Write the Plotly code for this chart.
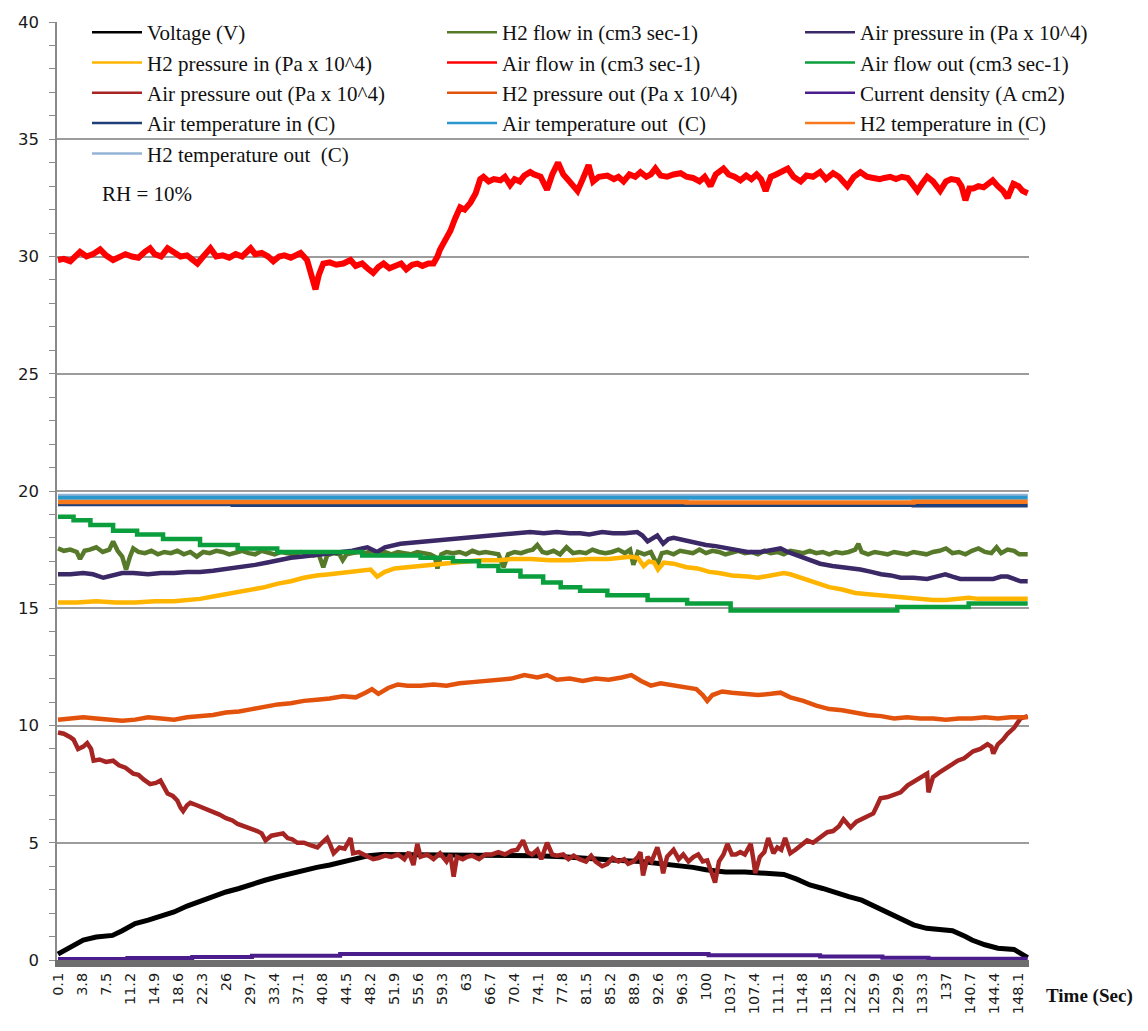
import plotly.graph_objects as go

# ---- time axis labels (seconds) ----
TIME_TICKS = ["0.1", "3.8", "7.5", "11.2", "14.9", "18.6", "22.3", "26", "29.7", "33.4",
              "37.1", "40.8", "44.5", "48.2", "51.9", "55.6", "59.3", "63", "66.7", "70.4",
              "74.1", "77.8", "81.5", "85.2", "88.9", "92.6", "96.3", "100", "103.7", "107.4",
              "111.1", "114.8", "118.5", "122.2", "125.9", "129.6", "133.3", "137", "140.7",
              "144.4", "148.1"]

# ---- Voltage (V) ----
VOLT_T = [0.1, 2, 4, 6, 7.5, 8.5, 10, 12, 14, 16, 18, 20, 22, 24, 26, 28, 30, 32, 34, 36,
          38, 40, 42, 44, 46, 48, 50, 55, 60, 65, 70, 74, 78, 82, 86, 90, 94, 98, 100, 103,
          106, 110, 112, 114, 116, 118, 120, 122, 124, 126, 128, 130, 132, 134, 136, 138,
          140, 141, 143, 145, 147.5, 148.5, 149.6]
VOLT = [0.25, 0.55, 0.85, 0.98, 1.0, 1.05, 1.25, 1.55, 1.7, 1.85, 2.05, 2.3, 2.5, 2.75, 2.9,
        3.05, 3.25, 3.4, 3.55, 3.7, 3.8, 3.95, 4.05, 4.2, 4.35, 4.45, 4.5, 4.5, 4.5, 4.5,
        4.45, 4.45, 4.4, 4.3, 4.25, 4.2, 4.1, 3.95, 3.85, 3.75, 3.75, 3.7, 3.65, 3.45, 3.2,
        3.05, 2.85, 2.7, 2.55, 2.3, 2.05, 1.75, 1.5, 1.35, 1.3, 1.25, 1.0, 0.85, 0.65, 0.5,
        0.45, 0.3, 0.1]

# ---- H2 flow in (cm3 sec-1) ----
H2_FLOW_T = [0.1, 1, 2, 3, 3.5, 4.2, 5, 6, 7, 8, 8.6, 9.3, 10, 10.6, 11.2, 11.7, 12.5, 13.5,
             14.5, 15.5, 16.5, 17.5, 18.5, 19.5, 20.5, 21.5, 22.5, 23.5, 24.5, 25.5, 26.5,
             27.5, 28.5, 29.5, 30.5, 31.5, 32.5, 33.5, 34.5, 35.5, 36.5, 37.5, 38.5, 39.5,
             40.3, 41, 41.6, 42.5, 43.5, 44, 44.6, 45.5, 46.5, 47.5, 48.5, 49.5, 50.5, 51.5,
             52.5, 53.5, 54.5, 55.5, 56.5, 57.5, 58.2, 58.6, 59.2, 60, 61, 62, 63, 64, 65, 66,
             67, 68, 68.8, 69.5, 70.5, 71.5, 72.5, 73.3, 74, 74.8, 75.5, 76.5, 77.5, 78.5,
             79.5, 80.5, 81.5, 82.5, 83.5, 84.5, 85.5, 86.5, 87.5, 88.3, 88.8, 89.5, 90.5,
             91.5, 92.5, 93.2, 94, 95, 96, 97, 98, 99, 100, 101, 102, 103, 104, 105, 106,
             107, 108, 109, 110, 111, 112, 113, 114, 115, 116, 117, 118, 119, 120, 121, 122,
             123, 123.5, 124, 125, 126, 127, 128, 129, 130, 131, 132, 133, 134, 135, 136,
             137, 138, 139, 140, 141, 142, 143, 144, 144.8, 145.5, 146.5, 147.5, 148.3, 149.6]
H2_FLOW = [17.55, 17.45, 17.5, 17.4, 17.1, 17.45, 17.5, 17.6, 17.4, 17.5, 17.85, 17.45, 17.2,
           16.65, 17.2, 17.55, 17.4, 17.35, 17.45, 17.3, 17.4, 17.35, 17.45, 17.3, 17.4,
           17.2, 17.4, 17.35, 17.45, 17.4, 17.3, 17.4, 17.45, 17.35, 17.3, 17.45, 17.35,
           17.3, 17.4, 17.35, 17.3, 17.4, 17.35, 17.25, 17.3, 16.75, 17.25, 17.35, 17.3,
           17.05, 17.3, 17.35, 17.4, 17.35, 17.45, 17.35, 17.4, 17.3, 17.4, 17.35, 17.3,
           17.4, 17.35, 17.3, 17.2, 16.7, 17.3, 17.4, 17.35, 17.4, 17.3, 17.45, 17.35, 17.4,
           17.35, 17.3, 16.75, 17.3, 17.4, 17.35, 17.45, 17.5, 17.7, 17.4, 17.35, 17.45,
           17.3, 17.6, 17.35, 17.4, 17.35, 17.5, 17.4, 17.35, 17.4, 17.5, 17.35, 17.5,
           16.85, 17.4, 17.3, 17.4, 16.85, 17.35, 17.4, 17.3, 17.45, 17.4, 17.35, 17.5,
           17.35, 17.45, 17.4, 17.3, 17.4, 17.45, 17.35, 17.4, 17.3, 17.45, 17.35, 17.4,
           17.3, 17.45, 17.4, 17.35, 17.45, 17.35, 17.4, 17.3, 17.4, 17.35, 17.4, 17.5,
           17.75, 17.4, 17.3, 17.4, 17.35, 17.3, 17.4, 17.35, 17.3, 17.4, 17.35, 17.3, 17.4,
           17.45, 17.55, 17.35, 17.4, 17.3, 17.45, 17.55, 17.4, 17.35, 17.6, 17.35, 17.5,
           17.45, 17.3, 17.3]

# ---- Air pressure in (Pa x 10^4) ----
AIR_P_IN_T = [0.1, 2, 4, 5.5, 7.1, 8.5, 10, 11.7, 14, 16, 18, 20, 22, 24, 25.5, 27.1, 29,
              30.5, 32.4, 34, 36, 37.5, 39, 41, 42.6, 44, 45.5, 47, 47.8, 49.3, 50.5, 52.9,
              55, 57.5, 60, 62.5, 65.2, 67, 69, 71, 72.9, 75, 77, 79, 80.6, 82, 84, 85.7,
              87.5, 89.4, 90.2, 91, 91.8, 92.5, 93.4, 94.2, 95, 96.5, 98.7, 100, 101.5,
              103.7, 105, 106.4, 108.4, 110, 111.5, 112.6, 114, 116, 117.6, 119.5, 121.5,
              123.8, 125.5, 127, 128.5, 130, 132, 134.1, 135.5, 136.9, 138, 139.2, 141, 143,
              144.3, 145.5, 146.5, 147.5, 148.5, 149.6]
AIR_P_IN = [16.45, 16.45, 16.5, 16.45, 16.3, 16.4, 16.5, 16.5, 16.45, 16.5, 16.5, 16.55,
            16.55, 16.6, 16.65, 16.7, 16.8, 16.85, 16.95, 17.05, 17.15, 17.2, 17.25, 17.3,
            17.35, 17.4, 17.45, 17.55, 17.6, 17.4, 17.6, 17.75, 17.8, 17.9, 17.95, 18.0,
            18.05, 18.1, 18.15, 18.2, 18.25, 18.2, 18.25, 18.2, 18.2, 18.15, 18.25, 18.2,
            18.2, 18.25, 18.1, 17.85, 18.0, 18.1, 17.75, 17.95, 18.0, 17.9, 17.75, 17.7,
            17.65, 17.55, 17.5, 17.4, 17.4, 17.5, 17.55, 17.4, 17.25, 17.05, 16.9, 16.8,
            16.75, 16.65, 16.55, 16.45, 16.4, 16.3, 16.3, 16.25, 16.35, 16.45, 16.35, 16.25,
            16.25, 16.25, 16.25, 16.35, 16.35, 16.25, 16.15, 16.15]

# ---- H2 pressure in (Pa x 10^4) ----
H2_P_IN_T = [0.1, 3, 6, 9, 12, 15, 18, 20, 22, 24, 26, 28, 30, 32, 34, 36, 38, 40, 42, 44,
             46.5, 48.3, 49.3, 50.5, 52, 54, 56, 58, 60, 63, 65, 68, 70, 73, 76, 79, 82, 85,
             88.3, 89.5, 90.4, 91.2, 92, 92.6, 93.5, 95, 97, 98.7, 100.5, 102, 104, 106.4,
             108, 110, 112, 113, 115, 117, 119, 121, 123, 125, 127, 129, 131, 133, 135, 137,
             139, 140.5, 142, 145, 147, 149.6]
H2_P_IN = [15.25, 15.25, 15.3, 15.25, 15.25, 15.3, 15.3, 15.35, 15.4, 15.5, 15.6, 15.7, 15.8,
           15.9, 16.05, 16.15, 16.3, 16.4, 16.45, 16.5, 16.6, 16.65, 16.35, 16.55, 16.7,
           16.75, 16.8, 16.85, 16.9, 17.0, 17.05, 17.05, 17.1, 17.1, 17.05, 17.05, 17.1,
           17.1, 17.2, 17.15, 16.8, 17.0, 16.95, 16.65, 16.95, 16.9, 16.75, 16.7, 16.55,
           16.5, 16.4, 16.35, 16.3, 16.4, 16.5, 16.45, 16.25, 16.05, 15.9, 15.8, 15.65,
           15.6, 15.55, 15.5, 15.45, 15.4, 15.35, 15.35, 15.4, 15.45, 15.4, 15.4, 15.4, 15.4]

# ---- Air flow in (cm3 sec-1) ----
AIR_FLOW_IN_T = [0.1, 1, 2, 3, 3.5, 4.5, 5.5, 6.6, 7.5, 8.6, 9.5, 10.5, 11.5, 12.5, 13.5,
                 14.3, 15, 16, 17, 18, 19, 20, 20.8, 21.6, 22.5, 23.6, 24.5, 25.5, 26.5,
                 27.5, 28.5, 29.8, 30.5, 31.5, 32.5, 33.3, 34.2, 35, 36, 37, 37.5, 38.5, 39,
                 39.8, 40.3, 41, 42, 43, 44.1, 45.2, 46, 47, 47.8, 48.7, 49.5, 50.3, 51.2, 52,
                 53, 53.8, 54.7, 55.5, 56.3, 57.2, 58, 58.6, 59, 59.8, 60.6, 61.3, 62.1, 62.8,
                 63.7, 64.5, 65.2, 65.7, 66.5, 67.3, 68.3, 69, 69.8, 70.5, 71.3, 72, 72.9,
                 73.5, 74.5, 75.5, 76.3, 77.2, 78, 78.8, 79.5, 80.2, 81, 81.9, 82.6, 83.5,
                 84.8, 85.8, 86.5, 87.3, 88.2, 89.1, 89.9, 90.8, 91.5, 92.2, 93, 94, 95, 96.1,
                 97, 98, 99, 99.8, 100.7, 101.5, 102.7, 103.5, 104.4, 105.3, 106.2, 107,
                 107.8, 108.5, 109.2, 110, 110.8, 111.7, 112.6, 113.5, 114.6, 115.5, 116.5,
                 117.6, 118.5, 119.6, 120.5, 121.8, 122.8, 123.8, 124.8, 125.8, 126.8, 127.5,
                 128.4, 129.3, 130.2, 131.1, 131.8, 132.6, 133.3, 134.1, 135, 136.1, 137,
                 137.8, 138.8, 139.4, 140, 140.6, 141.2, 142, 142.8, 143.5, 144.2, 145, 145.8,
                 146.5, 147.4, 148.2, 148.8, 149.6]
AIR_FLOW_IN = [29.85, 29.9, 29.8, 30.05, 30.2, 30.0, 30.1, 30.3, 30.05, 29.85, 30.0, 30.1,
               30.0, 29.95, 30.2, 30.35, 30.1, 30.0, 30.35, 30.15, 30.0, 30.05, 29.85, 29.7,
               30.0, 30.35, 30.0, 30.05, 29.95, 30.1, 30.0, 30.35, 30.1, 30.15, 30.0, 29.8,
               30.0, 30.05, 29.95, 30.1, 30.15, 29.85, 29.3, 28.6, 29.2, 29.7, 29.75, 29.65,
               29.7, 29.85, 29.6, 29.7, 29.5, 29.3, 29.55, 29.7, 29.5, 29.6, 29.7, 29.45,
               29.65, 29.7, 29.6, 29.7, 29.7, 30.0, 30.3, 30.7, 31.1, 31.6, 32.1, 32.0, 32.3,
               32.7, 33.3, 33.4, 33.2, 33.3, 33.25, 33.4, 33.05, 33.3, 33.2, 33.45, 33.6,
               33.5, 33.4, 32.85, 33.5, 34.0, 33.5, 33.25, 33.0, 32.8, 33.3, 33.9, 33.2, 33.4,
               33.45, 33.3, 33.4, 33.2, 33.5, 33.4, 33.6, 33.4, 33.5, 33.75, 33.45, 33.4,
               33.5, 33.55, 33.4, 33.35, 33.2, 33.4, 33.0, 33.5, 33.75, 33.5, 33.4, 33.25,
               33.45, 33.3, 33.5, 33.3, 32.8, 33.4, 33.5, 33.6, 33.75, 33.4, 33.2, 33.45,
               33.4, 33.6, 33.3, 33.55, 33.4, 33.0, 33.4, 33.6, 33.4, 33.35, 33.3, 33.35,
               33.4, 33.3, 33.4, 33.35, 33.1, 32.8, 33.1, 33.4, 33.2, 32.8, 33.2, 33.3,
               33.25, 33.0, 32.4, 32.9, 32.9, 33.0, 32.95, 33.1, 33.25, 33.0, 32.8, 32.5,
               33.1, 33.0, 32.8, 32.7]

# ---- Air flow out (cm3 sec-1), stepped readings ----
AIR_FLOW_OUT_T = [0.1, 2.5, 5.1, 8.6, 12.3, 16.3, 22, 27.8, 33.9, 47, 56, 61, 65, 68, 71.4,
                  74.9, 77.6, 80.6, 84.8, 91, 97.1, 103.8, 129.5, 140.5, 149.6]
AIR_FLOW_OUT = [18.9, 18.75, 18.55, 18.3, 18.15, 17.95, 17.7, 17.55, 17.4, 17.25, 17.15, 17.0,
                16.8, 16.6, 16.35, 16.1, 15.9, 15.75, 15.55, 15.35, 15.2, 14.9, 15.05, 15.2,
                15.2]

# ---- Air pressure out (Pa x 10^4) ----
AIR_P_OUT_T = [0.1, 1, 2, 2.5, 3.2, 4, 4.6, 5.2, 5.6, 6.5, 7.5, 8.6, 9.5, 10.5, 11.7, 12.5,
               13.3, 14.3, 15.2, 15.9, 16.5, 17, 17.8, 18.5, 19, 19.4, 20, 20.5, 21.5, 22.5,
               24.1, 25, 26, 27, 27.8, 29, 30, 30.8, 31.5, 32.1, 33, 34, 34.8, 35.5, 36.2,
               37, 38, 39, 40.1, 40.8, 41.6, 42.1, 42.6, 43.5, 44.3, 45.2, 45.6, 46.5, 47.5,
               48.7, 49.5, 50.5, 51.5, 52.5, 53.5, 54.2, 54.9, 55.5, 56, 57, 58, 59, 60,
               60.6, 61.1, 61.6, 62.5, 63.2, 64, 65, 66, 67, 68, 69, 70, 70.9, 71.8, 72.5,
               73.2, 74, 74.6, 75.5, 76.3, 77, 78, 78.8, 79.6, 80.5, 81.5, 82.3, 83, 84,
               84.8, 85.6, 86.5, 87.4, 88, 88.8, 89.5, 89.9, 90.3, 91, 91.6, 92.5, 93, 93.4,
               94, 95, 95.8, 96.5, 97.3, 98.1, 98.8, 99.5, 100.2, 100.8, 101.4, 102, 102.7,
               103.3, 104, 104.6, 105.3, 106, 106.9, 107.3, 107.6, 108.3, 109, 109.6, 110.1,
               110.4, 111, 111.6, 112.2, 113, 113.8, 114.6, 115.6, 116.5, 117.5, 118.7,
               119.6, 120.5, 121.2, 122.3, 123.2, 124.5, 125.8, 126.4, 126.9, 128, 129, 130,
               131.1, 132, 133, 134.1, 134.3, 135, 136, 137, 138, 138.8, 139.8, 140.5,
               141.2, 142.3, 143.4, 144, 144.3, 145, 145.8, 146.5, 147.5, 148.5, 149.6]
AIR_P_OUT = [9.7, 9.65, 9.5, 9.4, 9.0, 9.1, 9.25, 9.0, 8.5, 8.55, 8.45, 8.5, 8.3, 8.2, 7.95,
             7.9, 7.7, 7.5, 7.55, 7.65, 7.35, 7.1, 7.0, 6.8, 6.5, 6.35, 6.6, 6.7, 6.6, 6.5,
             6.3, 6.2, 6.05, 5.95, 5.8, 5.7, 5.6, 5.5, 5.4, 5.1, 5.3, 5.35, 5.4, 5.2, 5.15,
             5.0, 5.0, 4.9, 4.8, 5.0, 5.2, 4.9, 4.55, 4.8, 4.75, 5.2, 4.55, 4.6, 4.45, 4.3,
             4.35, 4.45, 4.4, 4.5, 4.3, 4.6, 4.05, 4.95, 4.4, 4.5, 4.3, 4.55, 4.2, 4.5, 3.55,
             4.4, 4.3, 4.4, 4.45, 4.3, 4.5, 4.5, 4.6, 4.5, 4.65, 4.7, 5.1, 4.6, 4.5, 4.7,
             4.3, 5.0, 4.5, 4.45, 4.5, 4.3, 4.45, 4.3, 4.2, 4.45, 4.2, 4.0, 4.1, 4.35, 4.2,
             4.3, 4.1, 4.2, 4.4, 4.6, 3.6, 4.4, 4.2, 4.8, 4.3, 3.7, 4.4, 4.7, 4.3, 4.5, 4.2,
             4.4, 4.5, 4.2, 4.25, 3.8, 3.3, 4.2, 4.5, 4.95, 4.5, 4.5, 4.6, 4.5, 4.95, 4.3,
             3.7, 4.4, 4.6, 5.2, 4.7, 4.55, 4.8, 4.7, 5.2, 4.55, 4.7, 4.9, 5.1, 5.0, 5.2,
             5.45, 5.5, 5.7, 6.0, 5.65, 5.9, 6.1, 6.25, 6.6, 6.9, 6.95, 7.05, 7.15, 7.45,
             7.6, 7.75, 7.95, 7.15, 7.8, 8.0, 8.15, 8.35, 8.5, 8.6, 8.75, 8.9, 9.0, 9.2,
             9.1, 8.8, 9.2, 9.4, 9.65, 9.9, 10.3, 10.4]

# ---- H2 pressure out (Pa x 10^4) ----
H2_P_OUT_T = [0.1, 2, 4, 6, 8, 10, 12, 14, 16, 18, 20, 22, 24, 26, 28, 30, 32, 34, 36, 38,
              40, 42, 44, 46, 47.5, 48.5, 49.5, 51, 52.5, 54, 56, 58, 60, 62, 64, 66, 68, 70,
              72, 74, 75.5, 77, 79, 81, 83, 85, 87, 88.5, 90, 91.5, 93, 95, 97, 98.5, 99.5,
              100.2, 101, 102.5, 104, 106, 108, 110, 111.5, 113, 115, 117, 119, 121, 123,
              125, 127, 129, 131, 133, 135, 137, 139, 141, 143, 145, 147, 149.6]
H2_P_OUT = [10.25, 10.3, 10.35, 10.3, 10.25, 10.2, 10.25, 10.35, 10.3, 10.25, 10.35, 10.4,
            10.45, 10.55, 10.6, 10.7, 10.8, 10.9, 10.95, 11.05, 11.1, 11.15, 11.25, 11.2,
            11.4, 11.55, 11.35, 11.6, 11.75, 11.7, 11.7, 11.75, 11.7, 11.8, 11.85, 11.9,
            11.95, 12.0, 12.15, 12.05, 12.15, 11.95, 12.0, 11.9, 12.0, 11.95, 12.05, 12.15,
            11.9, 11.7, 11.8, 11.7, 11.6, 11.55, 11.3, 11.05, 11.3, 11.45, 11.4, 11.35, 11.3,
            11.35, 11.4, 11.2, 11.05, 10.85, 10.7, 10.65, 10.55, 10.45, 10.4, 10.3, 10.35,
            10.3, 10.3, 10.25, 10.3, 10.3, 10.35, 10.3, 10.35, 10.35]

# ---- Current density (A cm2), stepped readings ----
CURRENT_T = [0.1, 10.8, 20.8, 30, 43.6, 100.4, 117.6, 127.2, 134.3, 149.6]
CURRENT = [0.04, 0.08, 0.13, 0.18, 0.26, 0.2, 0.15, 0.1, 0.05, 0.05]

# ---- temperatures (C) ----
AIR_T_IN_T = [0.1, 27, 132, 149.6]
AIR_T_IN = [19.44, 19.40, 19.38, 19.38]
AIR_T_OUT_T = [0.1, 149.6]
AIR_T_OUT = [19.73, 19.73]
H2_T_IN_T = [0.1, 97, 132, 149.6]
H2_T_IN = [19.53, 19.51, 19.54, 19.54]
H2_T_OUT_T = [0.1, 149.6]
H2_T_OUT = [19.84, 19.84]

SERIES = [
    ("Voltage (V)", VOLT_T, VOLT, "#000000", 5, "linear", "legend"),
    ("H2 flow in (cm3 sec-1)", H2_FLOW_T, H2_FLOW, "#56792a", 4.5, "linear", "legend2"),
    ("Air pressure in (Pa x 10^4)", AIR_P_IN_T, AIR_P_IN, "#3b2866", 4.5, "linear", "legend3"),
    ("H2 pressure in (Pa x 10^4)", H2_P_IN_T, H2_P_IN, "#ffb400", 4.5, "linear", "legend"),
    ("Air flow in (cm3 sec-1)", AIR_FLOW_IN_T, AIR_FLOW_IN, "#ff0000", 6, "linear", "legend2"),
    ("Air flow out (cm3 sec-1)", AIR_FLOW_OUT_T, AIR_FLOW_OUT, "#0a9e3c", 4.5, "hv", "legend3"),
    ("Air pressure out (Pa x 10^4)", AIR_P_OUT_T, AIR_P_OUT, "#a62523", 4.5, "linear", "legend"),
    ("H2 pressure out (Pa x 10^4)", H2_P_OUT_T, H2_P_OUT, "#e2520c", 4.5, "linear", "legend2"),
    ("Current density (A cm2)", CURRENT_T, CURRENT, "#4a1c8c", 4, "hv", "legend3"),
    ("Air temperature in (C)", AIR_T_IN_T, AIR_T_IN, "#1e3f78", 4, "hv", "legend"),
    ("Air temperature out  (C)", AIR_T_OUT_T, AIR_T_OUT, "#2a97cf", 5, "hv", "legend2"),
    ("H2 temperature in (C)", H2_T_IN_T, H2_T_IN, "#f8791c", 4.5, "hv", "legend3"),
    ("H2 temperature out  (C)", H2_T_OUT_T, H2_T_OUT, "#95b3d7", 2, "hv", "legend"),
]

fig = go.Figure()

for name, t, v, color, width, shape, _ in SERIES:
    fig.add_trace(go.Scatter(
        x=t, y=v, mode="lines", name=name, legendgroup=name, showlegend=False,
        line=dict(color=color, width=width, shape=shape),
    ))

# thin legend keys, one per series
for name, _t, _v, color, _w, _s, leg in SERIES:
    fig.add_trace(go.Scatter(
        x=[None], y=[None], mode="lines", name=name, legendgroup=name,
        showlegend=True, legend=leg, line=dict(color=color, width=2.5),
    ))

L, R, T, B = 57, 119, 18, 71
PW = 1148 - L - R
PH = 1031 - T - B
legend_style = dict(
    bgcolor="rgba(0,0,0,0)", borderwidth=0, orientation="v",
    font=dict(family="Liberation Serif", size=21, color="#111111"),
    itemwidth=50, yanchor="top", xanchor="left", y=1.0 + 10 / PH,
    traceorder="normal", itemclick=False, itemdoubleclick=False,
)

fig.update_layout(
    width=1148, height=1031,
    margin=dict(l=L, r=R, t=T, b=B),
    paper_bgcolor="white", plot_bgcolor="white",
    showlegend=True,
    legend=dict(legend_style, x=(87 - L) / PW),
    legend2=dict(legend_style, x=(442 - L) / PW),
    legend3=dict(legend_style, x=(800 - L) / PW),
    xaxis=dict(
        range=[-0.05, 149.8], tickmode="array",
        tickvals=[float(s) for s in TIME_TICKS], ticktext=TIME_TICKS,
        tickangle=-90, ticks="", showgrid=False, zeroline=False,
        showline=True, linecolor="#6e6e6e", linewidth=7,
        tickfont=dict(family="DejaVu Sans", size=14.5, color="#1a1a1a"),
    ),
    yaxis=dict(
        range=[0, 40], dtick=5, tick0=0,
        showgrid=True, gridcolor="#9c9c9c", gridwidth=1.5, zeroline=False,
        showline=True, linecolor="#8a8a8a", linewidth=1.5,
        ticks="outside", ticklen=6, tickcolor="#8a8a8a", tickwidth=1.2,
        ticklabelstandoff=7,
        minor=dict(dtick=1, ticks="outside", ticklen=6, tickcolor="#8a8a8a",
                   tickwidth=1.2, showgrid=False),
        tickfont=dict(family="DejaVu Sans", size=16.5, color="#1a1a1a"),
    ),
    annotations=[
        dict(text="RH = 10%", xref="paper", yref="paper",
             x=(100 - L) / PW, y=(960 - 191) / PH,
             xanchor="left", yanchor="middle", showarrow=False,
             font=dict(family="Liberation Serif", size=21, color="#111111")),
        dict(text="<b>Time (Sec)</b>", xref="paper", yref="paper",
             x=(1044 - L) / PW, y=(960 - 996) / PH,
             xanchor="left", yanchor="middle", showarrow=False,
             font=dict(family="Liberation Serif", size=19, color="#111111")),
    ],
)

fig.write_html("out.html")
